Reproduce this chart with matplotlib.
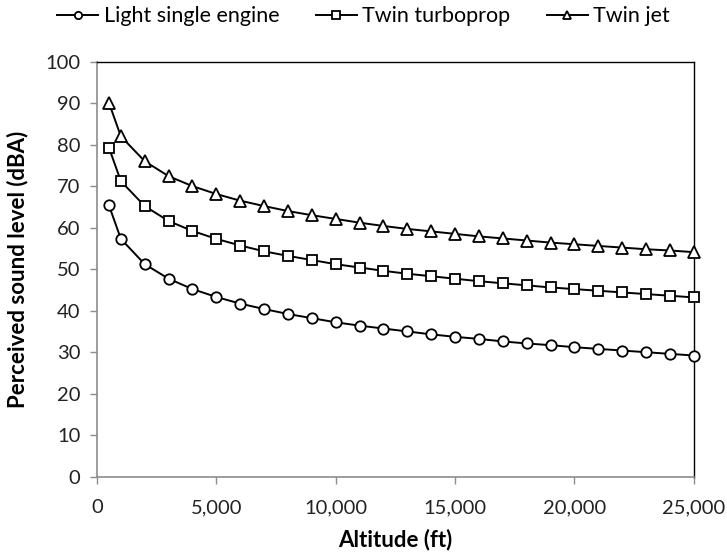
import matplotlib
matplotlib.use("Agg")
import matplotlib.pyplot as plt
from matplotlib.ticker import FuncFormatter, MultipleLocator

plt.rcParams['font.family'] = ['Lato', 'DejaVu Sans']

altitude_ft = [500, 1000, 2000, 3000, 4000, 5000, 6000, 7000, 8000, 9000, 10000,
               11000, 12000, 13000, 14000, 15000, 16000, 17000, 18000, 19000, 20000,
               21000, 22000, 23000, 24000, 25000]

light_single = [65.4, 57.3, 51.2, 47.7, 45.2, 43.3, 41.7, 40.4, 39.2, 38.2, 37.2,
                36.4, 35.7, 35.0, 34.3, 33.7, 33.2, 32.6, 32.1, 31.7, 31.2,
                30.8, 30.4, 30.0, 29.6, 29.2]

twin_turboprop = [79.3, 71.2, 65.2, 61.6, 59.2, 57.3, 55.7, 54.3, 53.2, 52.2, 51.2,
                  50.4, 49.6, 48.9, 48.3, 47.7, 47.1, 46.6, 46.1, 45.6, 45.2,
                  44.8, 44.4, 44.0, 43.6, 43.2]

twin_jet = [90.1, 82.0, 76.0, 72.4, 70.0, 68.1, 66.5, 65.2, 64.0, 63.0, 62.1,
            61.2, 60.4, 59.7, 59.1, 58.5, 57.9, 57.4, 56.9, 56.4, 56.0,
            55.6, 55.2, 54.8, 54.5, 54.1]

series_names = ["Light single engine", "Twin turboprop", "Twin jet"]

fig = plt.figure(figsize=(7.27, 5.55), dpi=100)
ax = fig.add_axes([0.1334, 0.141, 0.821, 0.748])

styles = [("o", 7.5, light_single), ("s", 7.5, twin_turboprop), ("^", 8.0, twin_jet)]
handles = []
for (marker, msize, values), name in zip(styles, series_names):
    h, = ax.plot(altitude_ft, values, color="black", lw=1.4, marker=marker,
                 markersize=msize, markerfacecolor="white", markeredgecolor="black",
                 markeredgewidth=1.3, label=name, clip_on=False, zorder=3)
    handles.append(h)

ax.set_xlim(0, 25000)
ax.set_ylim(0, 100)
ax.xaxis.set_major_locator(MultipleLocator(5000))
ax.yaxis.set_major_locator(MultipleLocator(10))
ax.xaxis.set_major_formatter(FuncFormatter(lambda v, p: f"{int(v):,}"))

for side in ("left", "bottom"):
    ax.spines[side].set_color("#8c8c8c")
    ax.spines[side].set_linewidth(1.2)
for side in ("top", "right"):
    ax.spines[side].set_color("black")
    ax.spines[side].set_linewidth(1.0)

ax.tick_params(axis="both", direction="out", length=5, width=1.0,
               color="#8c8c8c", labelsize=14.5, labelcolor="#222222")
ax.tick_params(axis="y", pad=7)
ax.tick_params(axis="x", pad=11)

ax.set_xlabel("Altitude (ft)", fontsize=16, fontweight="bold", labelpad=9)
ax.set_ylabel("Perceived sound level (dBA)", fontsize=16, fontweight="bold", labelpad=12)

fig.legend(handles=handles, loc="center", bbox_to_anchor=(0.5, 0.971), ncol=3,
           frameon=False, fontsize=15.5, handlelength=1.9, handletextpad=0.25,
           columnspacing=1.7, markerscale=0.7)

fig.savefig("out.png", dpi=100)
